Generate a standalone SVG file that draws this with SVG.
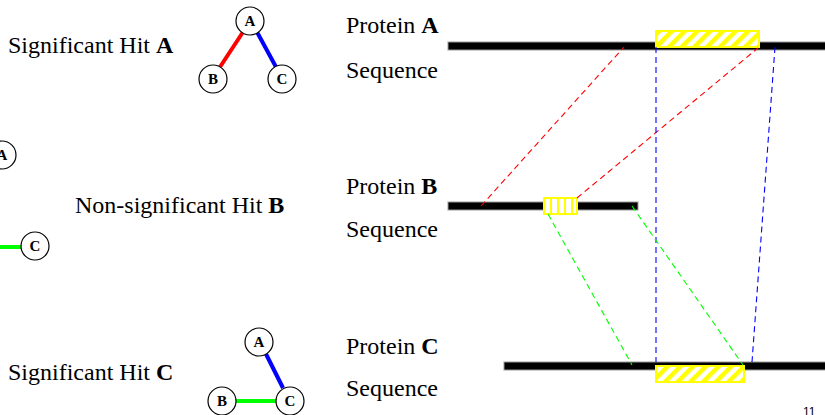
<svg xmlns="http://www.w3.org/2000/svg" width="825" height="415" viewBox="0 0 825 415">
<style>
.t{font-family:"Liberation Serif","Times New Roman",serif;font-size:24px;fill:#000}
.n{fill:#fff;stroke:#000;stroke-width:1.2}
.nl{font-family:"Liberation Serif","Times New Roman",serif;font-size:15px;font-weight:bold;text-anchor:middle;fill:#000}
.bar{fill:#000;stroke:#999;stroke-width:1}
.d{fill:none;stroke-width:1.1;stroke-dasharray:6 4}
.box{stroke:#ffff00;stroke-width:2}
</style>
<defs>
<pattern id="diag" patternUnits="userSpaceOnUse" width="9" height="9" patternTransform="rotate(45)">
<rect width="9" height="9" fill="#fff"/>
<rect width="4.5" height="9" fill="#ffff00"/>
</pattern>
<pattern id="vert" patternUnits="userSpaceOnUse" x="543" width="7" height="20">
<rect width="7" height="20" fill="#fff"/>
<rect width="2" height="20" fill="#ffff00"/>
</pattern>
</defs>
<rect width="825" height="415" fill="#fff"/>

<g id="labels">
<text class="t" x="8" y="53">Significant Hit <tspan font-weight="bold">A</tspan></text>
<text class="t" x="75" y="213">Non-significant Hit <tspan font-weight="bold">B</tspan></text>
<text class="t" x="8" y="380">Significant Hit <tspan font-weight="bold">C</tspan></text>
<text class="t" x="346" y="33">Protein <tspan font-weight="bold">A</tspan></text>
<text class="t" x="346" y="78">Sequence</text>
<text class="t" x="346" y="194">Protein <tspan font-weight="bold">B</tspan></text>
<text class="t" x="346" y="237">Sequence</text>
<text class="t" x="346" y="354">Protein <tspan font-weight="bold">C</tspan></text>
<text class="t" x="346" y="396">Sequence</text>
<text x="803" y="416" font-family="Liberation Sans, Arial, sans-serif" font-size="12" fill="#000">11</text>
</g>

<g id="connectors">
<line x1="243" y1="32" x2="220" y2="67" stroke="#ff0000" stroke-width="4"/>
<line x1="257" y1="32" x2="276" y2="67" stroke="#0000ff" stroke-width="4"/>
<line x1="0" y1="247" x2="21" y2="247" stroke="#00ff00" stroke-width="4"/>
<line x1="266" y1="354" x2="283" y2="388" stroke="#0000ff" stroke-width="4"/>
<line x1="236" y1="401" x2="276" y2="401" stroke="#00ff00" stroke-width="4"/>
</g>

<g id="tree1">
<g id="t1A"><circle class="n" cx="250" cy="21" r="14"/><text class="nl" x="250" y="26">A</text></g>
<g id="t1B"><circle class="n" cx="213" cy="79" r="14"/><text class="nl" x="213" y="84">B</text></g>
<g id="t1C"><circle class="n" cx="282" cy="79" r="14"/><text class="nl" x="282" y="84">C</text></g>
</g>
<g id="tree2">
<g id="t2A"><circle class="n" cx="2" cy="155" r="14"/><text class="nl" x="2" y="160">A</text></g>
<g id="t2C"><circle class="n" cx="35" cy="246" r="14"/><text class="nl" x="35" y="251">C</text></g>
</g>
<g id="tree3">
<g id="t3A"><circle class="n" cx="259" cy="342" r="14"/><text class="nl" x="259" y="347">A</text></g>
<g id="t3B"><circle class="n" cx="222" cy="401" r="14"/><text class="nl" x="222" y="406">B</text></g>
<g id="t3C"><circle class="n" cx="290" cy="401" r="14"/><text class="nl" x="290" y="406">C</text></g>
</g>

<g id="seqA">
<rect class="bar" x="448" y="42" width="378" height="8"/>
<rect class="box" x="656" y="31" width="103" height="16" fill="url(#diag)"/>
</g>
<g id="seqB">
<rect class="bar" x="448" y="202" width="190" height="8"/>
<rect class="box" x="544" y="198" width="33" height="16" fill="url(#vert)"/>
</g>
<g id="seqC">
<rect class="bar" x="504" y="362" width="322" height="8"/>
<rect class="box" x="656" y="366" width="88" height="16" fill="url(#diag)"/>
</g>

<g id="alignments">
<line class="d" stroke="#ff0000" x1="481" y1="206" x2="624" y2="47"/>
<line class="d" stroke="#ff0000" x1="577" y1="198" x2="758" y2="48"/>
<line class="d" stroke="#0000ff" x1="656" y1="47" x2="656" y2="362"/>
<line class="d" stroke="#0000ff" x1="775" y1="47" x2="752" y2="362"/>
<line class="d" stroke="#00ff00" x1="548" y1="214" x2="632" y2="365"/>
<line class="d" stroke="#00ff00" x1="632" y1="206" x2="743" y2="365"/>
</g>
</svg>
